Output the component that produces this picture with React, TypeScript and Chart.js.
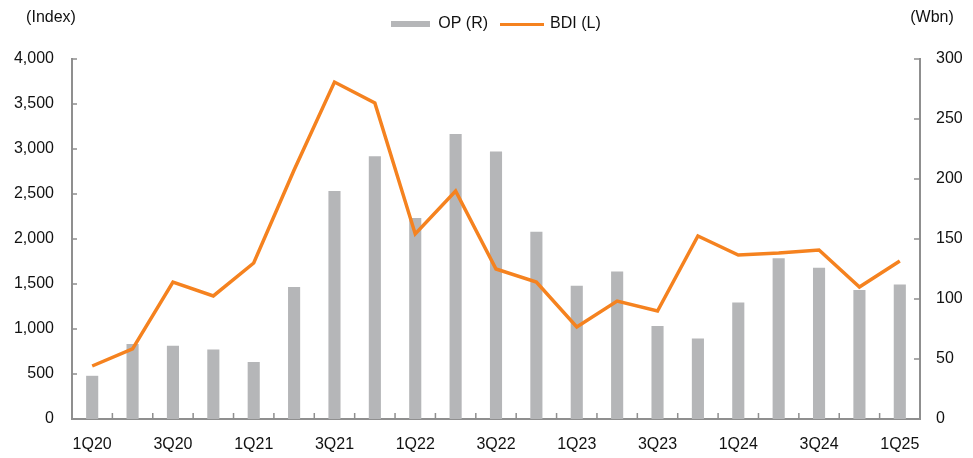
import React, { useEffect, useRef } from "react";
import { Chart, registerables } from "chart.js";

Chart.register(...registerables);

const categories = [
  "1Q20", "2Q20", "3Q20", "4Q20",
  "1Q21", "2Q21", "3Q21", "4Q21",
  "1Q22", "2Q22", "3Q22", "4Q22",
  "1Q23", "2Q23", "3Q23", "4Q23",
  "1Q24", "2Q24", "3Q24", "4Q24",
  "1Q25",
];

// Operating profit (Wbn), right axis
const opValues = [
  36, 62.5, 61, 58,
  47.5, 110, 190, 219,
  167.5, 237.5, 223, 156,
  111, 123, 77.5, 67,
  97, 134, 126, 107.5,
  112,
];

// Baltic Dry Index, left axis
const bdiValues = [
  589, 778, 1522, 1367,
  1733, 2767, 3744, 3511,
  2056, 2533, 1667, 1522,
  1022, 1311, 1200, 2033,
  1822, 1844, 1878, 1467,
  1756,
];

const leftTicks = { min: 0, max: 4000, step: 500 };
const rightTicks = { min: 0, max: 300, step: 50 };

const leftTitle = "(Index)";
const rightTitle = "(Wbn)";
const opLabel = "OP (R)";
const bdiLabel = "BDI (L)";

const BAR_COLOR = "#b5b6b8";
const LINE_COLOR = "#f5821f";
const AXIS_COLOR = "#8f8f8f";
const TEXT_COLOR = "#111111";
const FONT_FAMILY = "'Liberation Sans', Arial, sans-serif";

function makeSwatch(w: number, h: number, color: string) {
  const c = document.createElement("canvas");
  c.width = w;
  c.height = h;
  const cx = c.getContext("2d")!;
  cx.fillStyle = color;
  cx.fillRect(0, 0, w, h);
  return c;
}

export default function App() {
  const canvasRef = useRef<HTMLCanvasElement | null>(null);

  useEffect(() => {
    if (!canvasRef.current) return;
    const opSwatch = makeSwatch(39, 6, BAR_COLOR);
    const bdiSwatch = makeSwatch(44, 3, LINE_COLOR);

    const decor = {
      id: "decor",
      afterInit(chart: any) {
        const legend = chart.legend;
        if (legend && !legend.__patched) {
          const origFit = legend.fit.bind(legend);
          legend.fit = function () {
            origFit();
            this.height += 19;
          };
          const origDraw = legend.draw.bind(legend);
          legend.draw = function (area: any) {
            const c = this.ctx;
            c.save();
            c.translate(9, 2);
            origDraw(area);
            c.restore();
          };
          legend.__patched = true;
        }
      },
      afterDraw(chart: any) {
        const { ctx, chartArea, scales } = chart;
        const yL = scales.y;
        const yR = scales.y1;
        const x = scales.x;
        ctx.save();
        ctx.strokeStyle = AXIS_COLOR;
        ctx.lineWidth = 1.5;
        ctx.beginPath();
        yL.ticks.forEach((_t: any, i: number) => {
          const py = yL.getPixelForTick(i);
          ctx.moveTo(chartArea.left, py);
          ctx.lineTo(chartArea.left + 5, py);
        });
        yR.ticks.forEach((_t: any, i: number) => {
          const py = yR.getPixelForTick(i);
          ctx.moveTo(chartArea.right, py);
          ctx.lineTo(chartArea.right - 6, py);
        });
        for (let i = 1; i < categories.length; i++) {
          const px = (x.getPixelForValue(i - 1) + x.getPixelForValue(i)) / 2;
          ctx.moveTo(px, chartArea.bottom);
          ctx.lineTo(px, chartArea.bottom - 6);
        }
        ctx.stroke();

        ctx.fillStyle = TEXT_COLOR;
        ctx.font = `16px ${FONT_FAMILY}`;
        ctx.textBaseline = "middle";
        ctx.textAlign = "center";
        ctx.fillText(leftTitle, 51, 18);
        ctx.fillText(rightTitle, 932, 18);
        ctx.restore();
      },
    };

    const chart = new Chart(canvasRef.current, {
      type: "bar",
      data: {
        labels: categories,
        datasets: [
          {
            type: "bar",
            label: opLabel,
            data: opValues,
            backgroundColor: BAR_COLOR,
            borderWidth: 0,
            yAxisID: "y1",
            barPercentage: 0.3,
            categoryPercentage: 1,
            order: 1,
            pointStyle: opSwatch as any,
          } as any,
          {
            type: "line",
            label: bdiLabel,
            data: bdiValues,
            borderColor: LINE_COLOR,
            backgroundColor: LINE_COLOR,
            borderWidth: 3.5,
            pointRadius: 0,
            tension: 0,
            yAxisID: "y",
            order: 0,
            pointStyle: bdiSwatch as any,
          } as any,
        ],
      },
      options: {
        animation: false,
        responsive: true,
        maintainAspectRatio: false,
        layout: { padding: 0 },
        font: { family: FONT_FAMILY, size: 16 },
        color: TEXT_COLOR,
        plugins: {
          tooltip: { enabled: false },
          legend: {
            display: true,
            position: "top",
            align: "center",
            labels: {
              usePointStyle: true,
              pointStyleWidth: 40,
              padding: 14,
              color: TEXT_COLOR,
              font: { family: FONT_FAMILY, size: 16 },
              sort: (a: any, b: any) => a.datasetIndex - b.datasetIndex,
            },
          },
        },
        scales: {
          x: {
            type: "category",
            offset: true,
            grid: { display: false, drawTicks: false },
            border: { display: true, color: AXIS_COLOR, width: 2 },
            ticks: {
              autoSkip: false,
              maxRotation: 0,
              minRotation: 0,
              padding: 16,
              color: TEXT_COLOR,
              font: { family: FONT_FAMILY, size: 16 },
              callback: (_v: any, i: number) => (i % 2 === 0 ? categories[i] : ""),
            },
            afterFit: (s: any) => {
              s.height = 39;
            },
          },
          y: {
            type: "linear",
            position: "left",
            min: leftTicks.min,
            max: leftTicks.max,
            grid: { display: false, drawTicks: false },
            border: { display: true, color: AXIS_COLOR, width: 2 },
            ticks: {
              stepSize: leftTicks.step,
              padding: 18,
              color: TEXT_COLOR,
              font: { family: FONT_FAMILY, size: 16 },
              callback: (v: any) => Number(v).toLocaleString("en-US"),
            },
            afterFit: (s: any) => {
              s.width = 72;
            },
          },
          y1: {
            type: "linear",
            position: "right",
            min: rightTicks.min,
            max: rightTicks.max,
            grid: { display: false, drawTicks: false },
            border: { display: true, color: AXIS_COLOR, width: 2 },
            ticks: {
              stepSize: rightTicks.step,
              padding: 16,
              color: TEXT_COLOR,
              font: { family: FONT_FAMILY, size: 16 },
            },
            afterFit: (s: any) => {
              s.width = 53;
            },
          },
        },
      } as any,
      plugins: [decor],
    });
    return () => chart.destroy();
  }, []);

  return (
    <div style={{ position: "fixed", left: 0, top: 0, width: 973, height: 458, background: "#fff" }}>
      <canvas ref={canvasRef} />
    </div>
  );
}
